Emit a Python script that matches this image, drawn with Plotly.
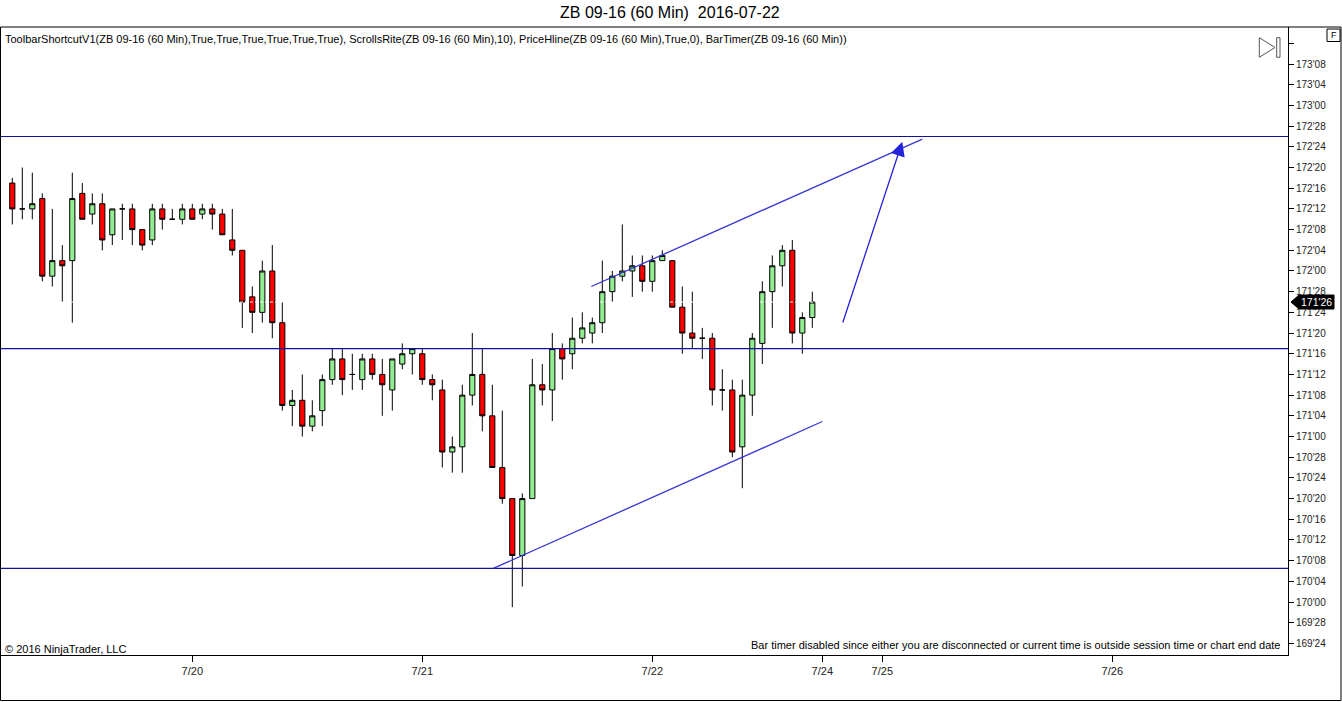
#!/usr/bin/env python

import plotly.graph_objects as go

# ZB 09-16, 60 minute bars, prices in 32nds (e.g. "171'26")
bar_index = list(range(81))

opens = [
    "172'17", "172'12", "172'12", "172'14", "171'31", "172'02", "172'02", "172'15", "172'11", "172'13",
    "172'07", "172'12", "172'12", "172'08", "172'06", "172'12", "172'10", "172'10", "172'12", "172'11",
    "172'12", "172'11", "172'06", "172'04", "171'27", "171'24", "172'00", "171'22", "171'06", "171'07",
    "171'02", "171'05", "171'11", "171'15", "171'12", "171'11", "171'15", "171'12", "171'09", "171'14",
    "171'16", "171'16", "171'11", "171'09", "170'29", "170'30", "171'08", "171'12", "171'04", "170'26",
    "170'20", "170'09", "170'20", "171'10", "171'09", "171'17", "171'16", "171'19", "171'20", "171'22",
    "171'28", "171'31", "172'00", "172'01", "171'30", "172'02", "172'02", "171'25", "171'20", "171'19",
    "171'19", "171'09", "171'09", "170'30", "171'08", "171'18", "171'28", "172'01", "172'04", "171'20",
    "171'23",
]
highs = [
    "172'18", "172'20", "172'19", "172'15", "172'12", "172'05", "172'19", "172'17", "172'15", "172'15",
    "172'12", "172'13", "172'13", "172'08", "172'13", "172'13", "172'12", "172'13", "172'13", "172'13",
    "172'13", "172'12", "172'12", "172'04", "171'29", "172'02", "172'05", "171'26", "171'09", "171'12",
    "171'07", "171'12", "171'17", "171'17", "171'16", "171'16", "171'16", "171'15", "171'15", "171'18",
    "171'17", "171'17", "171'12", "171'11", "171'00", "171'10", "171'20", "171'17", "171'10", "171'05",
    "170'20", "170'21", "171'15", "171'14", "171'20", "171'18", "171'23", "171'24", "171'23", "172'02",
    "172'00", "172'09", "172'03", "172'03", "172'03", "172'04", "172'02", "171'29", "171'28", "171'21",
    "171'20", "171'13", "171'11", "171'11", "171'20", "171'30", "172'03", "172'05", "172'06", "171'24",
    "171'28",
]
lows = [
    "172'09", "172'10", "172'10", "171'30", "171'29", "171'26", "171'22", "172'10", "172'09", "172'04",
    "172'05", "172'06", "172'05", "172'04", "172'05", "172'08", "172'10", "172'09", "172'10", "172'10",
    "172'08", "172'07", "172'03", "171'21", "171'20", "171'22", "171'19", "171'05", "171'02", "171'00",
    "171'01", "171'02", "171'10", "171'08", "171'09", "171'09", "171'11", "171'04", "171'05", "171'13",
    "171'12", "171'10", "171'07", "170'26", "170'25", "170'25", "171'06", "171'01", "170'26", "170'19",
    "169'31", "170'03", "170'20", "171'06", "171'03", "171'11", "171'13", "171'18", "171'18", "171'20",
    "171'26", "171'30", "171'27", "171'28", "171'28", "172'02", "171'25", "171'16", "171'17", "171'15",
    "171'06", "171'05", "170'28", "170'22", "171'04", "171'14", "171'21", "171'29", "171'18", "171'16",
    "171'21",
]
closes = [
    "172'12", "172'12", "172'13", "171'31", "172'02", "172'01", "172'14", "172'10", "172'13", "172'06",
    "172'12", "172'12", "172'08", "172'05", "172'12", "172'10", "172'10", "172'12", "172'10", "172'12",
    "172'11", "172'07", "172'04", "171'26", "171'24", "172'00", "171'22", "171'06", "171'07", "171'02",
    "171'04", "171'11", "171'15", "171'11", "171'12", "171'15", "171'12", "171'10", "171'15", "171'16",
    "171'17", "171'11", "171'10", "170'29", "170'30", "171'08", "171'12", "171'04", "170'26", "170'20",
    "170'09", "170'20", "171'10", "171'09", "171'17", "171'15", "171'19", "171'21", "171'22", "171'28",
    "171'31", "172'00", "172'01", "171'30", "172'02", "172'03", "171'25", "171'20", "171'19", "171'19",
    "171'09", "171'09", "170'29", "171'08", "171'19", "171'28", "172'01", "172'04", "171'20", "171'23",
    "171'26",
]

date_tick_bars = [18, 41, 64, 81, 87, 110]
date_tick_labels = ["7/20", "7/21", "7/22", "7/24", "7/25", "7/26"]

price_tick_labels = [
    "169'24", "169'28", "170'00", "170'04", "170'08", "170'12", "170'16", "170'20", "170'24", "170'28",
    "171'00", "171'04", "171'08", "171'12", "171'16", "171'20", "171'24", "171'28", "172'00", "172'04",
    "172'08", "172'12", "172'16", "172'20", "172'24", "172'28", "173'00", "173'04", "173'08", "173'12",
]

# drawing objects placed on the chart (bar, price)
horizontal_lines = ["172'26", "171'17", "170'06.5"]
upper_channel = [(57.9, "171'29"), (91.0, "172'25.5")]
lower_channel = [(48.1, "170'06.5"), (81.0, "171'02.9")]
arrow_line = [(83.0, "171'21.75"), (89.0, "172'25")]

FONT = 'Liberation Sans, Arial, sans-serif'
W, H = 1342, 702
M_L, M_R, M_T, M_B = 0, 54, 27, 47
PLOT_W = W - M_L - M_R
PLOT_H = H - M_T - M_B
Y_RANGE = [169.680, 173.474]


def q(s):
    whole, frac = s.split("'")
    return int(whole) + float(frac) / 32


def px(x):
    return (x - M_L) / PLOT_W


def py(y):
    return (H - M_B - y) / PLOT_H


fig = go.Figure(
    go.Candlestick(
        x=bar_index,
        open=[q(v) for v in opens],
        high=[q(v) for v in highs],
        low=[q(v) for v in lows],
        close=[q(v) for v in closes],
        increasing=dict(fillcolor='#90EE90', line=dict(color='black', width=1)),
        decreasing=dict(fillcolor='#FF0000', line=dict(color='black', width=1)),
        whiskerwidth=0,
        hoverinfo='skip',
    )
)

last = q(closes[-1])
shapes = []

for level in horizontal_lines:
    shapes.append(dict(type='line', xref='paper', yref='y', x0=0, x1=1,
                       y0=q(level), y1=q(level),
                       line=dict(color='#10109A', width=1.2)))

for seg in (upper_channel, lower_channel):
    shapes.append(dict(type='line', xref='x', yref='y',
                       x0=seg[0][0], y0=q(seg[0][1]), x1=seg[1][0], y1=q(seg[1][1]),
                       line=dict(color='#3636D2', width=1.3)))

# price line at last close
shapes.append(dict(type='line', xref='paper', yref='y', x0=0, x1=1, y0=last, y1=last,
                   line=dict(color='white', width=1, dash='3px,2px')))

# outer frame
shapes.append(dict(type='rect', xref='paper', yref='paper',
                   x0=px(0.5), x1=px(1341), y0=py(700.5), y1=py(27),
                   line=dict(color='black', width=1)))

# current price marker on the axis
dy = 7 * (Y_RANGE[1] - Y_RANGE[0]) / PLOT_H
path = (f"M {px(1291)},{last} L {px(1299)},{last + dy} L {px(1334)},{last + dy} "
        f"L {px(1334)},{last - dy} L {px(1299)},{last - dy} Z")
shapes.append(dict(type='path', xref='paper', yref='y', path=path,
                   fillcolor='black', line=dict(color='black', width=1)))

# "F" box top right
shapes.append(dict(type='rect', xref='paper', yref='paper',
                   x0=px(1327), x1=px(1340), y0=py(41.5), y1=py(29),
                   line=dict(color='black', width=1), fillcolor='white'))

# scroll-to-end icon
tri = f"M {px(1259.3)},{py(37.7)} L {px(1275)},{py(47.5)} L {px(1259.3)},{py(57.3)} Z"
shapes.append(dict(type='path', xref='paper', yref='paper', path=tri,
                   line=dict(color='#555555', width=1)))
shapes.append(dict(type='rect', xref='paper', yref='paper',
                   x0=px(1276.7), x1=px(1280), y0=py(57.3), y1=py(37.7),
                   line=dict(color='#555555', width=1)))

annotations = [
    dict(x=arrow_line[1][0], y=q(arrow_line[1][1]), ax=arrow_line[0][0], ay=q(arrow_line[0][1]),
         xref='x', yref='y', axref='x', ayref='y', text='', showarrow=True,
         arrowhead=2, arrowsize=2.2, arrowwidth=1.3, arrowcolor='#2424DC', standoff=0),
    dict(x=px(670), y=py(13), xref='paper', yref='paper', xanchor='center', yanchor='middle',
         text='ZB 09-16 (60 Min)\u00a0\u00a02016-07-22', showarrow=False,
         font=dict(family=FONT, size=16, color='black')),
    dict(x=px(3), y=py(39), xref='paper', yref='paper', xanchor='left', yanchor='middle',
         text='ToolbarShortcutV1(ZB 09-16 (60 Min),True,True,True,True,True,True), '
              'ScrollsRite(ZB 09-16 (60 Min),10), PriceHline(ZB 09-16 (60 Min),True,0), '
              'BarTimer(ZB 09-16 (60 Min))',
         showarrow=False, font=dict(family=FONT, size=11, color='black')),
    dict(x=px(3), y=py(649), xref='paper', yref='paper', xanchor='left', yanchor='middle',
         text='\u00a9 2016 NinjaTrader, LLC', showarrow=False,
         font=dict(family=FONT, size=11, color='black')),
    dict(x=px(1283), y=py(645), xref='paper', yref='paper', xanchor='right', yanchor='middle',
         text='Bar timer disabled since either you are disconnected or current time is '
              'outside session time or chart end date',
         showarrow=False, font=dict(family=FONT, size=11, color='black')),
    dict(x=px(1333.5), y=py(35.3), xref='paper', yref='paper', xanchor='center', yanchor='middle',
         text='F', showarrow=False, font=dict(family=FONT, size=9, color='black')),
    dict(x=px(1316), y=last, xref='paper', yref='y', xanchor='center', yanchor='middle',
         text=closes[-1], showarrow=False, font=dict(family=FONT, size=10.5, color='white')),
]

fig.update_layout(
    width=W,
    height=H,
    margin=dict(l=M_L, r=M_R, t=M_T, b=M_B, pad=0),
    paper_bgcolor='white',
    plot_bgcolor='white',
    showlegend=False,
    shapes=shapes,
    annotations=annotations,
    boxgap=0.26,
    xaxis=dict(
        range=[-1.23, 127.57],
        tickvals=date_tick_bars,
        ticktext=date_tick_labels,
        ticks='outside',
        ticklen=6,
        tickcolor='black',
        showgrid=False,
        zeroline=False,
        showline=True,
        linecolor='black',
        linewidth=1,
        rangeslider=dict(visible=False),
        tickfont=dict(family=FONT, size=11, color='#222222'),
        fixedrange=True,
    ),
    yaxis=dict(
        range=Y_RANGE,
        side='right',
        tickvals=[q(v) for v in price_tick_labels],
        ticktext=price_tick_labels[:-1] + [''],
        ticks='outside',
        ticklen=5,
        tickcolor='black',
        showgrid=False,
        zeroline=False,
        showline=True,
        linecolor='black',
        linewidth=1,
        automargin=False,
        tickfont=dict(family=FONT, size=10, color='#222222'),
        fixedrange=True,
    ),
)

fig.write_html(
    "out.html",
    config=dict(displayModeBar=False),
    post_script="document.body.style.margin='0';document.body.style.overflow='hidden';",
)
